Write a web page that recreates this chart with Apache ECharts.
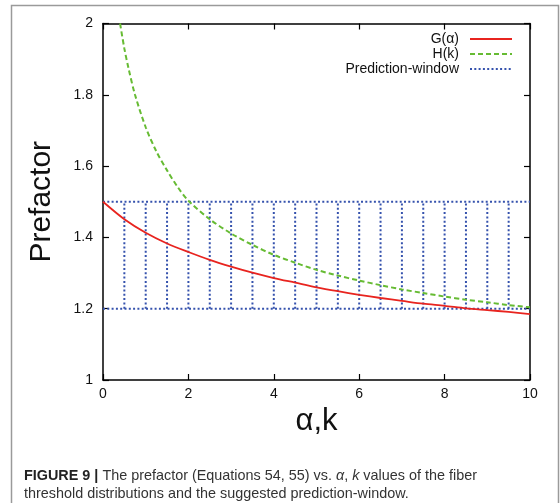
<!DOCTYPE html>
<html>
<head>
<meta charset="utf-8">
<script src="https://cdn.jsdelivr.net/npm/echarts@6/dist/echarts.min.js"></script>
<style>html,body{margin:0;padding:0;background:#fff;}#c{width:560px;height:503px;}</style>
</head>
<body>
<div id="c"></div>
<script>
// ---- data ----
var gAlpha = [0, 0.5, 1, 1.5, 2, 2.5, 3, 3.5, 4, 4.5, 5, 5.5, 6, 6.5, 7, 7.5, 8, 8.5, 9, 9.5, 10];
var gValues = [1.5, 1.451, 1.413, 1.383, 1.359, 1.337, 1.318, 1.301, 1.286, 1.273, 1.260, 1.249, 1.239, 1.230, 1.222, 1.214, 1.208, 1.201, 1.196, 1.191, 1.185];
var hK = [0.4, 0.5, 0.6, 0.75, 1.0, 1.25, 1.5, 1.75, 2, 2.5, 3, 3.5, 4, 4.5, 5, 5.5, 6, 6.5, 7, 7.5, 8, 8.5, 9, 9.5, 10];
var hValues = [2.0, 1.930, 1.873, 1.800, 1.709, 1.641, 1.588, 1.541, 1.503, 1.451, 1.411, 1.379, 1.351, 1.329, 1.309, 1.293, 1.279, 1.266, 1.254, 1.244, 1.234, 1.225, 1.218, 1.210, 1.204];
var windowLow = 1.2;
var windowHigh = 1.5;
var windowXStart = 0;
var windowXEnd = 10;
var windowVerticals = [0.5, 1, 1.5, 2, 2.5, 3, 3.5, 4, 4.5, 5, 5.5, 6, 6.5, 7, 7.5, 8, 8.5, 9, 9.5];
var xTicks = [0, 2, 4, 6, 8, 10];
var yTicks = [1, 1.2, 1.4, 1.6, 1.8, 2];

function zip(xs, ys) { return xs.map(function (x, i) { return [x, ys[i]]; }); }
var windowData = [[windowXStart, windowHigh], [windowXEnd, windowHigh], null,
                  [windowXStart, windowLow], [windowXEnd, windowLow], null];
windowVerticals.forEach(function (x) { windowData.push([x, windowLow], [x, windowHigh], null); });

var FONT = 'Liberation Sans';
var axisCommon = {
  type: 'value',
  axisLine: { show: true, onZero: false, lineStyle: { color: '#000', width: 1.5 } },
  axisTick: { show: true, inside: true, length: 6, lineStyle: { color: '#000', width: 1.2 } },
  splitLine: { show: false }
};
function mk(extra) { return Object.assign({}, JSON.parse(JSON.stringify(axisCommon)), extra); }

var RED = '#e8241f', GREEN = '#66bb33', BLUE = '#3552ad';

var chart = echarts.init(document.getElementById('c'), null, { renderer: 'canvas' });
chart.setOption({
  animation: false,
  backgroundColor: '#fff',
  grid: { left: 103, right: 30, top: 23.5, bottom: 123 },
  xAxis: [
    mk({ position: 'bottom', min: xTicks[0], max: xTicks[xTicks.length - 1], interval: 2,
      axisLabel: { color: '#111', fontSize: 14, fontFamily: FONT, margin: 7 },
      name: 'α,k', nameLocation: 'middle', nameGap: 22,
      nameTextStyle: { fontSize: 31, fontFamily: FONT, color: '#111' } }),
    mk({ position: 'top', min: xTicks[0], max: xTicks[xTicks.length - 1], interval: 2, axisLabel: { show: false } })
  ],
  yAxis: [
    mk({ position: 'left', min: yTicks[0], max: yTicks[yTicks.length - 1], interval: 0.2,
      axisLabel: { color: '#111', fontSize: 14, fontFamily: FONT, margin: 10 },
      name: 'Prefactor', nameLocation: 'middle', nameGap: 46,
      nameTextStyle: { fontSize: 30, fontFamily: FONT, color: '#111' } }),
    mk({ position: 'right', min: yTicks[0], max: yTicks[yTicks.length - 1], interval: 0.2, axisLabel: { show: false } })
  ],
  legend: [
    { data: ['G(α)'], right: 47, top: 32 },
    { data: ['H(k)'], right: 47, top: 47 },
    { data: ['Prediction-window'], right: 47, top: 62 }
  ].map(function (l) {
    return Object.assign(l, { orient: 'vertical', align: 'right', itemWidth: 42, itemHeight: 14, padding: 0,
      itemStyle: { opacity: 0 },
      textStyle: { fontSize: 14, fontFamily: FONT, color: '#111', padding: [0, 6, 0, 0] } });
  }),
  series: [
    { name: 'Prediction-window', type: 'line', data: windowData, showSymbol: false, symbol: 'none',
      connectNulls: false, itemStyle: { color: BLUE },
      lineStyle: { color: BLUE, width: 2, type: [2, 2.3] }, z: 1 },
    { name: 'G(α)', type: 'line', data: zip(gAlpha, gValues), smooth: 0.3, showSymbol: false, symbol: 'none',
      itemStyle: { color: RED }, lineStyle: { color: RED, width: 1.8 }, z: 3 },
    { name: 'H(k)', type: 'line', data: zip(hK, hValues), smooth: 0.3, showSymbol: false, symbol: 'none',
      itemStyle: { color: GREEN }, lineStyle: { color: GREEN, width: 2, type: [5, 3] }, z: 2 }
  ],
  graphic: [
    { type: 'rect', shape: { x: 11.5, y: 5.5, width: 547, height: 520 },
      style: { fill: 'none', stroke: '#9a9a9a', lineWidth: 1.5 }, silent: true },
    { type: 'text', left: 24, top: 467,
      style: {
        text: '{b|FIGURE 9 |} The prefactor (Equations 54, 55) vs. {i|α}, {i|k} values of the fiber\nthreshold distributions and the suggested prediction-window.',
        fontSize: 14.4, fontFamily: FONT, fill: '#333', lineHeight: 18,
        rich: {
          b: { fontWeight: 'bold', fill: '#222', fontSize: 14.4, fontFamily: FONT, lineHeight: 18 },
          i: { fontStyle: 'italic', fill: '#333', fontSize: 14.4, fontFamily: FONT, lineHeight: 18 }
        }
      } }
  ]
});
</script>
</body>
</html>
